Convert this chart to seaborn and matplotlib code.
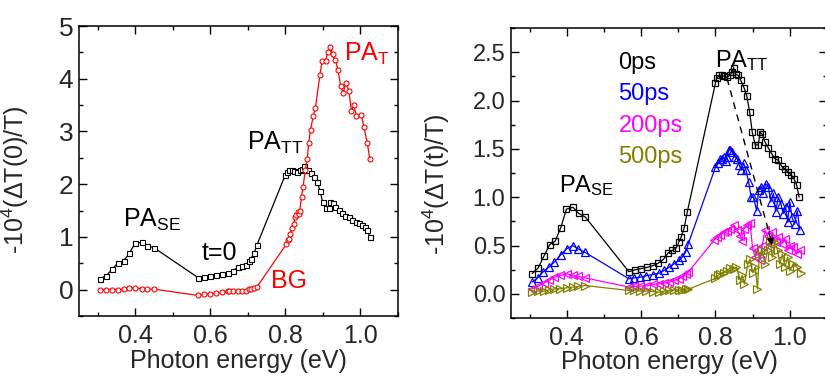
import numpy as np
import pandas as pd
import seaborn as sns
import matplotlib
matplotlib.use("Agg")
import matplotlib.pyplot as plt
from matplotlib.ticker import MultipleLocator

# ---------------- data ----------------
# t = 0 spectrum (black squares) -- also the 0ps curve on the right
t0_x = [0.307, 0.323, 0.339, 0.354, 0.369, 0.384, 0.399, 0.417, 0.432, 0.45,
        0.567, 0.583, 0.600, 0.616, 0.632, 0.646, 0.66, 0.673, 0.684, 0.695, 0.702, 0.708, 0.716, 0.724,
        0.80, 0.803, 0.81, 0.817, 0.824, 0.831, 0.838, 0.845, 0.849, 0.854,
        0.861, 0.868, 0.877, 0.884, 0.892, 0.899, 0.907, 0.915, 0.92, 0.926,
        0.933, 0.942, 0.951, 0.96, 0.969, 0.978, 0.987, 0.996, 1.004, 1.011, 1.018, 1.025]
t0_y = [0.21, 0.267, 0.394, 0.508, 0.546, 0.686, 0.876, 0.895, 0.832, 0.794,
        0.229, 0.248, 0.26, 0.273, 0.292, 0.317, 0.356, 0.425, 0.45, 0.476, 0.54, 0.59, 0.686, 0.844,
        2.18, 2.23, 2.26, 2.26, 2.25, 2.24, 2.26, 2.29, 2.34, 2.27,
        2.26, 2.21, 2.13, 2.05, 1.88, 1.67, 1.54, 1.54, 1.67, 1.65,
        1.57, 1.51, 1.45, 1.40, 1.38, 1.32, 1.29, 1.26, 1.23, 1.19, 1.13, 1.00]

# ground-state bleaching / PA_T (red circles)
bg_x = [0.307, 0.323, 0.339, 0.354, 0.369, 0.384, 0.399, 0.417, 0.432, 0.45,
        0.567, 0.583, 0.600, 0.616, 0.632, 0.646, 0.65, 0.66, 0.673, 0.684, 0.695, 0.702, 0.708, 0.716, 0.724,
        0.802, 0.806, 0.809, 0.813, 0.818, 0.822, 0.826, 0.829, 0.833, 0.836, 0.838, 0.843, 0.847,
        0.853, 0.858, 0.862, 0.867, 0.874, 0.88, 0.892, 0.898, 0.907, 0.913, 0.92, 0.926,
        0.933, 0.940, 0.947, 0.954, 0.961, 0.969, 0.976, 0.982, 0.989, 1.002, 1.009, 1.018, 1.025]
bg_y = [0.0, 0.0, 0.0, 0.0, 0.005, 0.04, 0.03, 0.02, 0.01, 0.01,
        -0.11, -0.09, -0.08, -0.06, -0.05, -0.03, -0.02, -0.03, -0.03, -0.03, -0.02, 0.01, 0.02, 0.04, 0.05,
        0.857, 0.94, 0.965, 1.06, 1.17, 1.25, 1.38, 1.41, 1.47, 1.43, 1.50, 1.75, 1.95,
        2.27, 2.47, 2.79, 3.03, 3.29, 3.45, 4.08, 4.34, 4.34, 4.50, 4.60, 4.46,
        4.35, 4.17, 3.87, 3.73, 3.92, 3.77, 3.38, 3.51, 3.30, 3.32, 3.09, 2.78, 2.48]

# 50 ps (blue up-triangles)
p50_x = [0.307, 0.322, 0.336, 0.352, 0.367, 0.384, 0.40, 0.416, 0.43, 0.448,
         0.567, 0.582, 0.598, 0.613, 0.631, 0.649, 0.662, 0.676, 0.689, 0.702, 0.711, 0.72, 0.727,
         0.80, 0.807, 0.813, 0.818, 0.822, 0.827, 0.831, 0.836, 0.840, 0.845,
         0.852, 0.858, 0.864, 0.869, 0.876, 0.882, 0.889, 0.896, 0.902, 0.911,
         0.916, 0.923, 0.929, 0.935, 0.942, 0.949, 0.956, 0.962, 0.969, 0.976,
         0.982, 0.989, 0.994, 1.0, 1.006, 1.013, 1.020, 1.027]
p50_y = [0.121, 0.166, 0.225, 0.277, 0.329, 0.405, 0.467, 0.50, 0.467, 0.432,
         0.156, 0.166, 0.173, 0.187, 0.20, 0.214, 0.242, 0.277, 0.311, 0.346, 0.38, 0.432, 0.519,
         1.31, 1.35, 1.40, 1.40, 1.42, 1.37, 1.42, 1.49, 1.49, 1.47,
         1.42, 1.40, 1.33, 1.28, 1.35, 1.28, 1.16, 1.00, 1.00, 0.86,
         1.07, 1.11, 1.04, 1.14, 1.11, 0.95, 1.04, 0.85, 1.00, 0.93,
         0.83, 0.90, 0.74, 0.95, 0.79, 0.72, 0.86, 0.66]

# 200 ps (magenta left-triangles)
p200_x = [0.307, 0.322, 0.338, 0.352, 0.367, 0.382, 0.40, 0.416, 0.43, 0.448,
          0.567, 0.582, 0.598, 0.613, 0.631, 0.649, 0.662, 0.676, 0.689, 0.702, 0.711, 0.72, 0.727,
          0.796, 0.804, 0.813, 0.822, 0.831, 0.84, 0.849, 0.858, 0.867, 0.871,
          0.876, 0.884, 0.893, 0.90, 0.907, 0.913, 0.92, 0.926, 0.933, 0.94,
          0.947, 0.953, 0.962, 0.969, 0.978, 0.987, 0.994, 1.0, 1.009, 1.018, 1.027]
p200_y = [0.052, 0.076, 0.11, 0.138, 0.173, 0.19, 0.207, 0.19, 0.18, 0.166,
          0.07, 0.076, 0.08, 0.08, 0.097, 0.104, 0.11, 0.12, 0.138, 0.155, 0.18, 0.207, 0.225,
          0.553, 0.59, 0.61, 0.64, 0.65, 0.67, 0.71, 0.66, 0.60, 0.55,
          0.67, 0.71, 0.73, 0.47, 0.38, 0.45, 0.35, 0.50, 0.66, 0.60,
          0.52, 0.64, 0.54, 0.59, 0.52, 0.57, 0.45, 0.50, 0.48, 0.41, 0.45]

# 500 ps (olive right-triangles)
p500_x = [0.307, 0.322, 0.338, 0.352, 0.367, 0.382, 0.40, 0.416, 0.43, 0.448,
          0.567, 0.582, 0.598, 0.613, 0.631, 0.649, 0.662, 0.676, 0.689, 0.702, 0.711, 0.72, 0.727,
          0.80, 0.807, 0.813, 0.822, 0.831, 0.84, 0.849, 0.856, 0.867, 0.872,
          0.878, 0.887, 0.893, 0.90, 0.907, 0.913, 0.918, 0.926, 0.933, 0.94,
          0.947, 0.953, 0.96, 0.967, 0.973, 0.98, 0.987, 0.994, 1.0, 1.009,
          1.018, 1.031]
p500_y = [0.017, 0.028, 0.028, 0.041, 0.052, 0.052, 0.062, 0.069, 0.076, 0.086,
          0.035, 0.041, 0.028, 0.028, 0.024, 0.017, 0.028, 0.035, 0.041, 0.035, 0.041, 0.052, 0.048,
          0.16, 0.19, 0.21, 0.22, 0.24, 0.27, 0.26, 0.28, 0.14, 0.19,
          0.10, 0.31, 0.36, 0.22, 0.28, 0.05, 0.41, 0.45, 0.31, 0.45,
          0.55, 0.38, 0.54, 0.45, 0.31, 0.41, 0.28, 0.38, 0.24, 0.31,
          0.28, 0.22]

delay_labels = ["0ps", "50ps", "200ps", "500ps"]
delay_colors = ["black", "#0000FF", "#FF00FF", "#808000"]

# ---------------- style ----------------
sns.set_theme(style="ticks")
plt.rcParams["font.family"] = ["Liberation Sans", "DejaVu Sans"]
plt.rcParams["mathtext.fontset"] = "custom"
plt.rcParams["mathtext.rm"] = "Liberation Sans"
plt.rcParams["mathtext.it"] = "Liberation Sans:italic"
plt.rcParams["mathtext.bf"] = "Liberation Sans:bold"
plt.rcParams["axes.linewidth"] = 1.1

fig = plt.figure(figsize=(8.25, 3.81), dpi=100)
ax1 = fig.add_axes([79 / 825, 65 / 381, 319 / 825, 290 / 381])
ax2 = fig.add_axes([511 / 825, 63 / 381, 316 / 825, 290 / 381])


def style_axes(ax, xfs, yfs):
    ax.tick_params(which="both", direction="in", top=True, right=True, width=1.0, color="black")
    ax.tick_params(which="major", length=6)
    ax.tick_params(which="minor", length=3)
    ax.tick_params(axis="x", labelsize=xfs, pad=6)
    ax.tick_params(axis="y", labelsize=yfs, pad=4)
    for s in ax.spines.values():
        s.set_visible(True)
        s.set_color("black")
    ax.grid(False)


# ---------------- left panel ----------------
df_t0 = pd.DataFrame({"E": t0_x, "S": t0_y})
df_bg = pd.DataFrame({"E": bg_x, "S": bg_y})
sns.lineplot(data=df_t0, x="E", y="S", ax=ax1, color="black", lw=0.9, sort=False,
             estimator=None, marker="s", markersize=3.6, markerfacecolor="white",
             markeredgecolor="black", markeredgewidth=0.8)
sns.lineplot(data=df_bg, x="E", y="S", ax=ax1, color="#FF0000", lw=0.9, sort=False,
             estimator=None, marker="o", markersize=3.6, markerfacecolor="white",
             markeredgecolor="#FF0000", markeredgewidth=0.8)
ax1.set_xlim(0.25, 1.1)
ax1.set_ylim(-0.5, 5)
ax1.xaxis.set_major_locator(MultipleLocator(0.2))
ax1.xaxis.set_minor_locator(MultipleLocator(0.1))
ax1.yaxis.set_major_locator(MultipleLocator(1))
ax1.yaxis.set_minor_locator(MultipleLocator(0.5))
ax1.set_xticks([0.4, 0.6, 0.8, 1.0])
ax1.set_xticklabels(["0.4", "0.6", "0.8", "1.0"])
style_axes(ax1, 18, 19)
ax1.set_xlabel("Photon energy (eV)", fontsize=18)
ax1.set_ylabel("-10$^{4}$(\u0394T(0)/T)", fontsize=18)
ax1.xaxis.set_label_coords(0.5, -0.115)
ax1.yaxis.set_label_coords(-0.15, 0.47)

ax1.text(0.956, 4.34, "PA$_{\\mathrm{T}}$", color="#FF0000", fontsize=18)
ax1.text(0.698, 2.65, "PA$_{\\mathrm{TT}}$", color="black", fontsize=18)
ax1.text(0.366, 1.19, "PA$_{\\mathrm{SE}}$", color="black", fontsize=18)
ax1.text(0.576, 0.57, "t=0", color="black", fontsize=18)
ax1.text(0.762, 0.04, "BG", color="#FF0000", fontsize=18)

# ---------------- right panel ----------------
series = [(t0_x, t0_y, "s", 4.6), (p50_x, p50_y, "^", 6.0),
          (p200_x, p200_y, "<", 6.0), (p500_x, p500_y, ">", 6.0)]
for (xs, ys, mk, ms), lab, col in zip(series, delay_labels, delay_colors):
    d = pd.DataFrame({"E": xs, "S": ys})
    sns.lineplot(data=d, x="E", y="S", ax=ax2, color=col, lw=0.9, sort=False,
                 estimator=None, marker=mk, markersize=ms, markerfacecolor="none",
                 markeredgecolor=col, markeredgewidth=0.9)
ax2.set_xlim(0.25, 1.1)
ax2.set_ylim(-0.25, 2.75)
ax2.set_xticks([0.4, 0.6, 0.8, 1.0])
ax2.set_xticklabels(["0.4", "0.6", "0.8", "1.0"])
ax2.xaxis.set_minor_locator(MultipleLocator(0.1))
ax2.set_yticks([0.0, 0.5, 1.0, 1.5, 2.0, 2.5])
ax2.set_yticklabels(["0.0", "0.5", "1.0", "1.5", "2.0", "2.5"])
ax2.yaxis.set_minor_locator(MultipleLocator(0.25))
style_axes(ax2, 18, 17)
ax2.set_xlabel("Photon energy (eV)", fontsize=18)
ax2.set_ylabel("-10$^{4}$(\u0394T(t)/T)", fontsize=18)
ax2.xaxis.set_label_coords(0.5, -0.11)
ax2.yaxis.set_label_coords(-0.187, 0.46)

label_y = [2.33, 2.005, 1.676, 1.35]
for lab, col, yy in zip(delay_labels, delay_colors, label_y):
    ax2.text(0.539, yy, lab, color=col, fontsize=17)
ax2.text(0.798, 2.35, "PA$_{\\mathrm{TT}}$", color="black", fontsize=17)
ax2.text(0.380, 1.05, "PA$_{\\mathrm{SE}}$", color="black", fontsize=17)

# dashed arrow showing the PA_TT peak shift
ax2.plot([0.831, 0.945], [2.23, 0.62], ls=(0, (5, 4)), color="black", lw=1.0)
ax2.annotate("", xy=(0.952, 0.50), xytext=(0.944, 0.64),
             arrowprops=dict(arrowstyle="-|>", color="black", lw=1.0,
                             mutation_scale=10, shrinkA=0, shrinkB=0))

fig.savefig("out.png", dpi=100)
